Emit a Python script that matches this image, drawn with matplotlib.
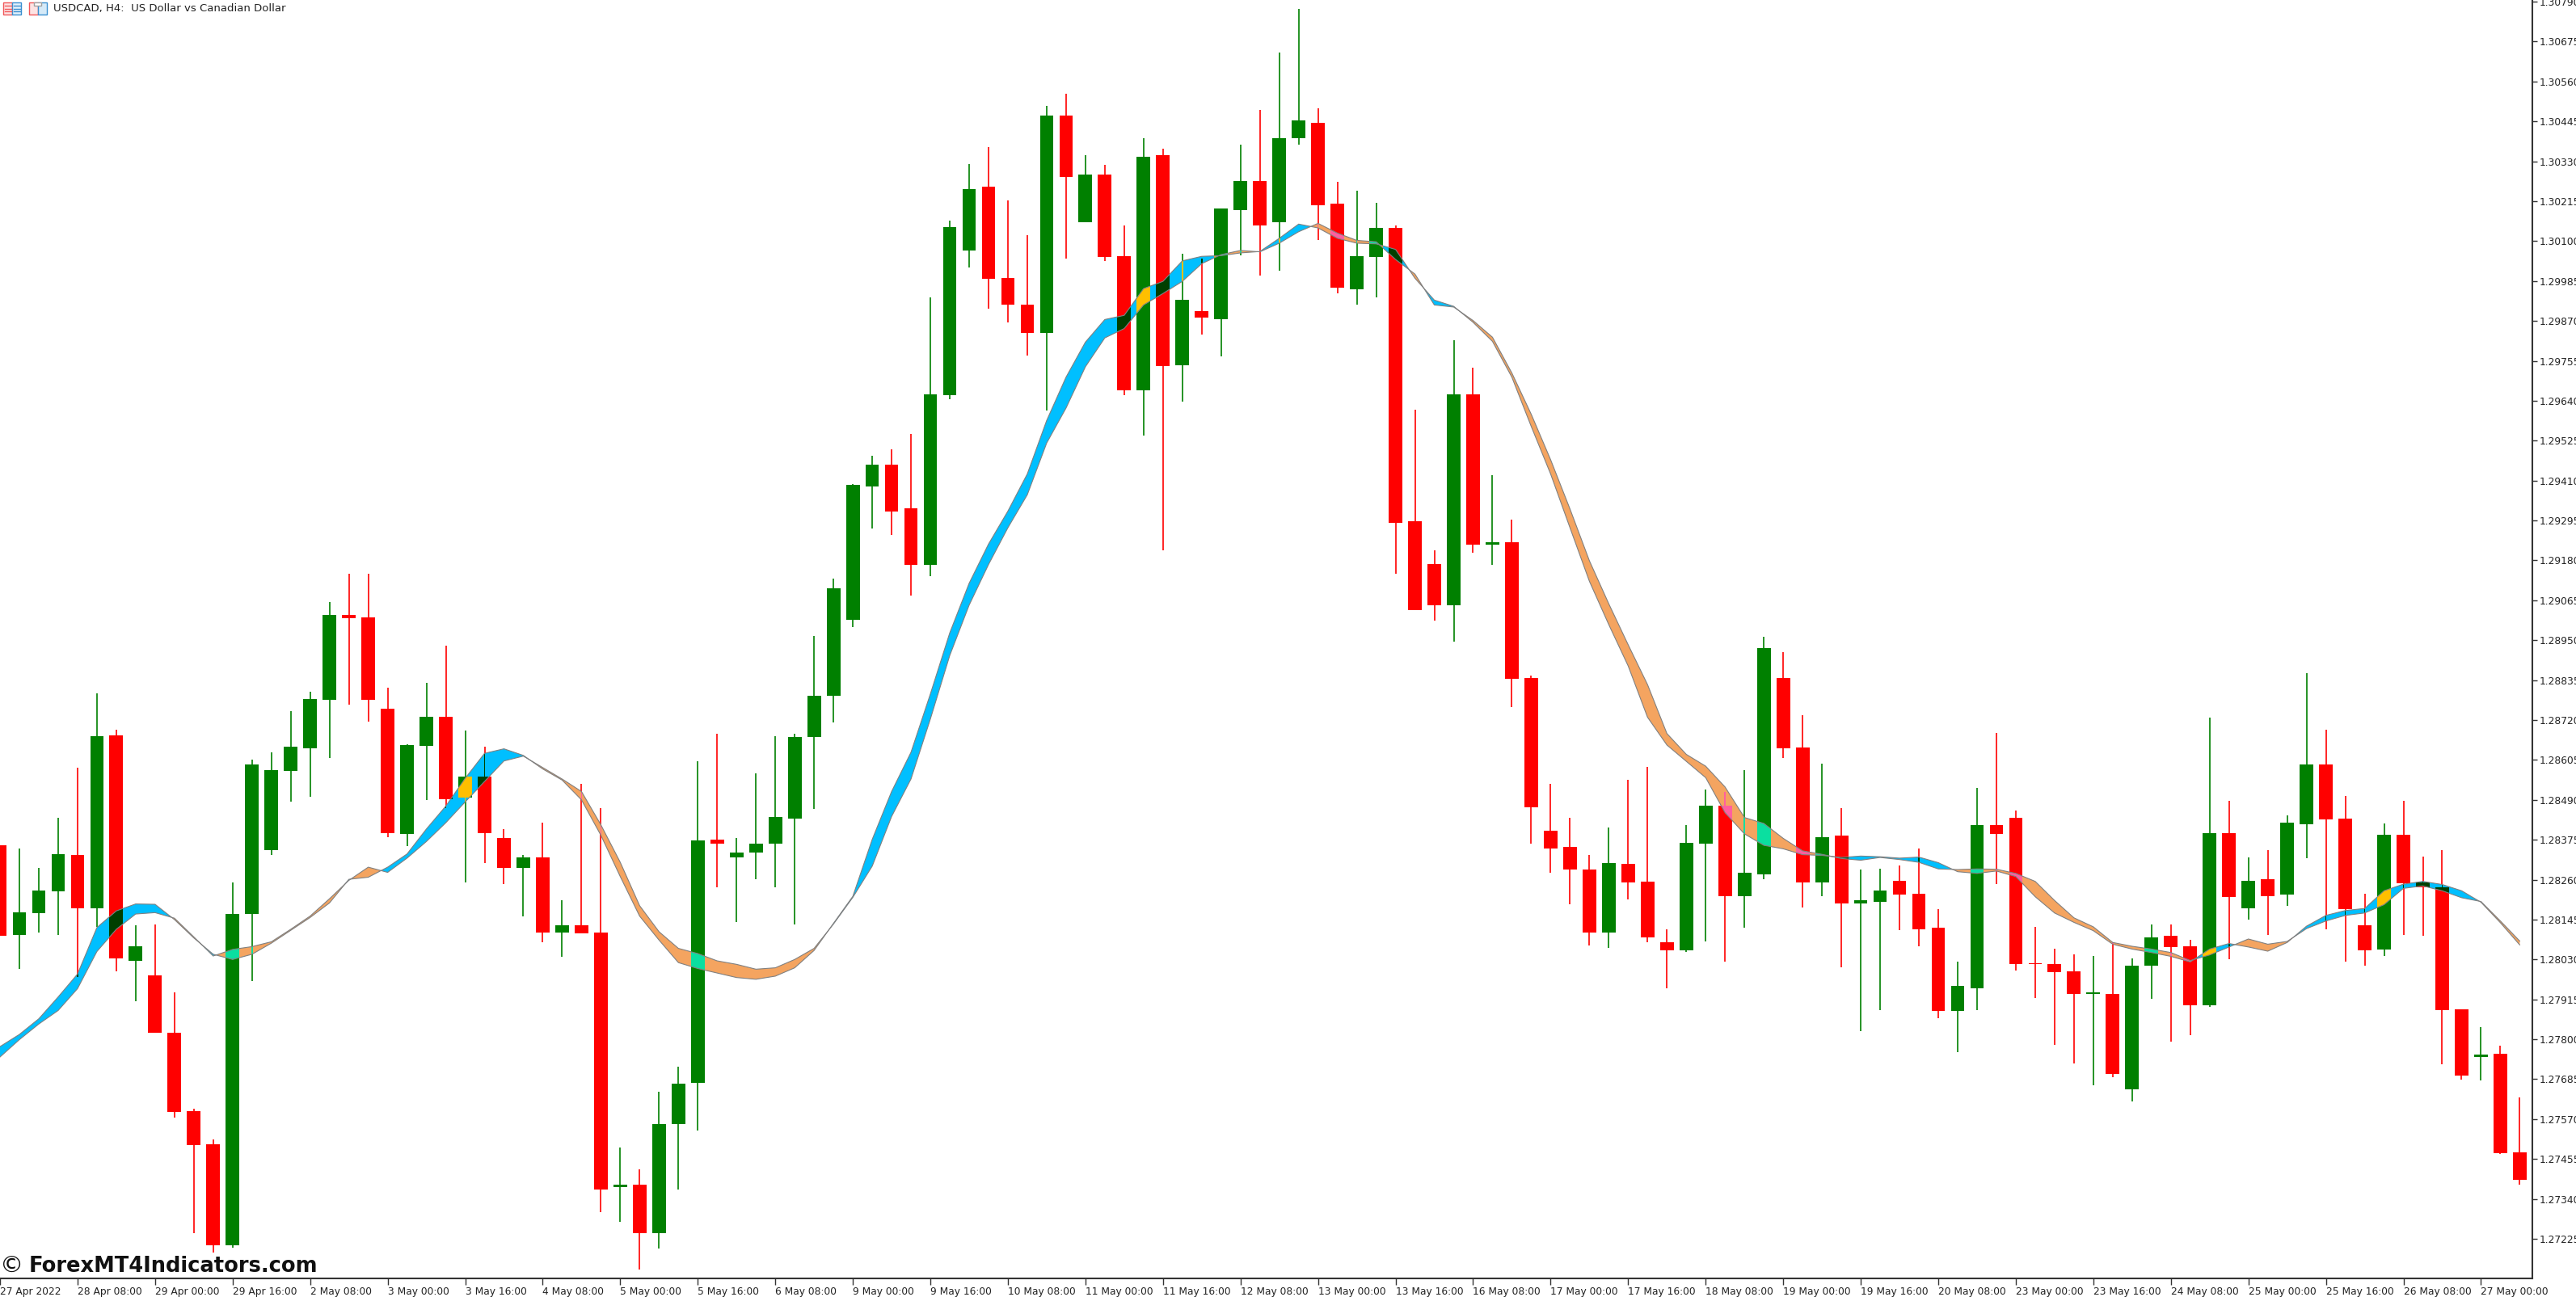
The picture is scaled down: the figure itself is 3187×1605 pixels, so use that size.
import numpy as np
import matplotlib
matplotlib.use("Agg")
import matplotlib.pyplot as plt
from matplotlib.patches import Rectangle

# USDCAD H4 candles
open_ = [1.28358,1.28101,1.28163,1.28227,1.28330,1.28178,1.28676,1.28027,1.27984,1.27819,
         1.27593,1.27498,1.27207,1.28160,1.28345,1.28573,1.28639,1.28778,1.29023,1.29016,
         1.28753,1.28391,1.28645,1.28729,1.28496,1.28557,1.28379,1.28293,1.28324,1.28107,
         1.28128,1.28107,1.27373,1.27381,1.27241,1.27556,1.27675,1.28376,1.28325,1.28338,
         1.28363,1.28436,1.28671,1.28789,1.29009,1.29393,1.29455,1.29330,1.29166,1.29656,
         1.30074,1.30256,1.29994,1.29917,1.29836,1.30462,1.30155,1.30291,1.30057,1.29669,
         1.30347,1.29742,1.29899,1.29876,1.30189,1.30274,1.30155,1.30396,1.30441,1.30207,
         1.29962,1.30054,1.30137,1.29292,1.29169,1.29051,1.29658,1.29226,1.29232,1.28841,
         1.28400,1.28355,1.28289,1.28107,1.28306,1.28254,1.28079,1.28056,1.28363,1.28473,
         1.28212,1.28275,1.28840,1.28641,1.28251,1.28386,1.28192,1.28196,1.28257,1.28219,
         1.28121,1.27882,1.27947,1.28418,1.28438,1.28020,1.28016,1.27995,1.27931,1.27931,
         1.27657,1.28011,1.28099,1.28068,1.27898,1.28394,1.28177,1.28261,1.28216,1.28419,
         1.28593,1.28435,1.28128,1.28059,1.28389,1.28251,1.28238,1.27887,1.27749,1.27758,
         1.27474]
high = [1.28358,1.28349,1.28295,1.28438,1.28582,1.28798,1.28693,1.28128,1.28131,1.27935,
        1.27599,1.27512,1.28253,1.28606,1.28627,1.28746,1.28802,1.29060,1.29141,1.29141,
        1.28812,1.28651,1.28826,1.28935,1.28689,1.28642,1.28405,1.28330,1.28424,1.28200,
        1.28536,1.28466,1.27488,1.27426,1.27649,1.27722,1.28602,1.28680,1.28379,1.28567,
        1.28673,1.28680,1.28962,1.29127,1.29399,1.29481,1.29501,1.29544,1.29938,1.30158,
        1.30322,1.30371,1.30218,1.30117,1.30490,1.30525,1.30347,1.30319,1.30144,1.30396,
        1.30366,1.30064,1.30049,1.30195,1.30378,1.30479,1.30644,1.30769,1.30483,1.30270,
        1.30245,1.30211,1.30144,1.29613,1.29208,1.29815,1.29735,1.29425,1.29298,1.28847,
        1.28537,1.28438,1.28330,1.28411,1.28547,1.28586,1.28117,1.28418,1.28519,1.28512,
        1.28575,1.28959,1.28916,1.28735,1.28595,1.28466,1.28289,1.28291,1.28302,1.28349,
        1.28176,1.28023,1.28525,1.28683,1.28459,1.28125,1.28062,1.28044,1.28040,1.28079,
        1.28033,1.28132,1.28132,1.28086,1.28728,1.28488,1.28324,1.28344,1.28446,1.28855,
        1.28691,1.28501,1.28220,1.28422,1.28488,1.28326,1.28344,1.27887,1.27835,1.27782,
        1.27632]
low = [1.28098,1.28003,1.28107,1.28101,1.27979,1.28123,1.27996,1.27909,1.27818,1.27575,
       1.27242,1.27186,1.27200,1.27969,1.28331,1.28485,1.28499,1.28610,1.28765,1.28716,
       1.28382,1.28356,1.28489,1.28466,1.28251,1.28307,1.28247,1.28155,1.28080,1.28038,
       1.28105,1.27302,1.27273,1.27137,1.27196,1.27367,1.27538,1.28238,1.28139,1.28261,
       1.28238,1.28132,1.28463,1.28712,1.28988,1.29271,1.29253,1.29078,1.29135,1.29645,
       1.30025,1.29906,1.29865,1.29771,1.29612,1.30049,1.30155,1.30042,1.29655,1.29540,
       1.29208,1.29637,1.29830,1.29767,1.30058,1.30001,1.30015,1.30378,1.30102,1.29949,
       1.29917,1.29938,1.29141,1.29037,1.29006,1.28947,1.29201,1.29167,1.28758,1.28363,
       1.28279,1.28188,1.28070,1.28064,1.28204,1.28080,1.27946,1.28051,1.28083,1.28023,
       1.28122,1.28262,1.28611,1.28180,1.28212,1.28007,1.27824,1.27884,1.28114,1.28068,
       1.27860,1.27762,1.27884,1.28247,1.27999,1.27919,1.27783,1.27731,1.27668,1.27691,
       1.27622,1.27917,1.27794,1.27813,1.27894,1.28031,1.28146,1.28101,1.28185,1.28321,
       1.28118,1.28023,1.28013,1.28039,1.28101,1.28098,1.27727,1.27683,1.27681,1.27469,
       1.27382]
close = [1.28098,1.28166,1.28229,1.28333,1.28178,1.28673,1.28034,1.28068,1.27818,1.27591,
         1.27496,1.27207,1.28162,1.28593,1.28575,1.28642,1.28780,1.29023,1.29013,1.28778,
         1.28394,1.28648,1.28729,1.28492,1.28557,1.28394,1.28293,1.28324,1.28107,1.28128,
         1.28105,1.27367,1.27381,1.27242,1.27555,1.27673,1.28373,1.28363,1.28337,1.28363,
         1.28440,1.28670,1.28791,1.29099,1.29397,1.29455,1.29320,1.29166,1.29658,1.30140,
         1.30249,1.29991,1.29917,1.29836,1.30462,1.30284,1.30291,1.30054,1.29669,1.30344,
         1.29740,1.29931,1.29879,1.30193,1.30274,1.30144,1.30396,1.30448,1.30203,1.29966,
         1.30057,1.30137,1.29289,1.29037,1.29051,1.29658,1.29226,1.29232,1.28838,1.28468,
         1.28349,1.28290,1.28107,1.28309,1.28251,1.28094,1.28056,1.28365,1.28473,1.28212,
         1.28281,1.28927,1.28638,1.28251,1.28383,1.28192,1.28201,1.28228,1.28216,1.28118,
         1.27882,1.27953,1.28418,1.28391,1.28017,1.28016,1.27993,1.27930,1.27935,1.27699,
         1.28012,1.28093,1.28066,1.27898,1.28394,1.28210,1.28257,1.28212,1.28425,1.28593,
         1.28433,1.28175,1.28056,1.28389,1.28250,1.28238,1.27884,1.27696,1.27757,1.27472,
         1.27395]

# the two averages that make the ribbon, blue where fast is over slow
ma_fast = [1.27779,1.27814,1.27859,1.27922,1.27988,1.28122,1.28170,1.28190,1.28189,1.28145,
           1.28092,1.28045,1.28030,1.28045,1.28077,1.28114,1.28151,1.28193,1.28261,1.28267,
           1.28296,1.28334,1.28406,1.28472,1.28552,1.28624,1.28637,1.28618,1.28579,1.28547,
           1.28490,1.28388,1.28269,1.28155,1.28086,1.28021,1.28004,1.27991,1.27978,1.27973,
           1.27982,1.28006,1.28056,1.28134,1.28212,1.28376,1.28514,1.28627,1.28795,1.28971,
           1.29114,1.29227,1.29322,1.29429,1.29583,1.29708,1.29809,1.29874,1.29886,1.29963,
           1.29984,1.30043,1.30056,1.30058,1.30066,1.30070,1.30108,1.30149,1.30138,1.30108,
           1.30094,1.30092,1.30076,1.29993,1.29930,1.29912,1.29866,1.29811,1.29708,1.29566,
           1.29429,1.29274,1.29120,1.28995,1.28876,1.28728,1.28648,1.28601,1.28554,1.28453,
           1.28392,1.28359,1.28349,1.28332,1.28330,1.28324,1.28328,1.28326,1.28322,1.28325,
           1.28309,1.28283,1.28278,1.28285,1.28269,1.28211,1.28164,1.28137,1.28113,1.28074,
           1.28060,1.28050,1.28039,1.28023,1.28060,1.28076,1.28066,1.28054,1.28079,1.28126,
           1.28157,1.28171,1.28177,1.28228,1.28247,1.28255,1.28246,1.28228,1.28195,1.28136,
           1.28072]
ma_slow = [1.27749,1.27799,1.27844,1.27883,1.27946,1.28053,1.28117,1.28161,1.28165,1.28149,
           1.28095,1.28040,1.28059,1.28067,1.28081,1.28117,1.28155,1.28205,1.28258,1.28296,
           1.28281,1.28322,1.28370,1.28424,1.28484,1.28543,1.28602,1.28616,1.28583,1.28550,
           1.28514,1.28418,1.28310,1.28185,1.28110,1.28062,1.28047,1.28026,1.28016,1.28002,
           1.28006,1.28030,1.28062,1.28132,1.28209,1.28299,1.28442,1.28550,1.28723,1.28906,
           1.29051,1.29168,1.29274,1.29369,1.29518,1.29619,1.29738,1.29821,1.29848,1.29916,
           1.29949,1.29984,1.30035,1.30061,1.30073,1.30069,1.30094,1.30127,1.30151,1.30123,
           1.30102,1.30098,1.30047,1.30005,1.29916,1.29910,1.29871,1.29823,1.29720,1.29601,
           1.29470,1.29328,1.29179,1.29055,1.28937,1.28822,1.28681,1.28621,1.28587,1.28527,
           1.28439,1.28422,1.28379,1.28343,1.28333,1.28321,1.28316,1.28324,1.28318,1.28310,
           1.28291,1.28289,1.28291,1.28290,1.28278,1.28255,1.28200,1.28150,1.28124,1.28079,
           1.28068,1.28060,1.28050,1.28027,1.28043,1.28066,1.28089,1.28074,1.28082,1.28119,
           1.28141,1.28157,1.28164,1.28188,1.28235,1.28242,1.28228,1.28208,1.28197,1.28141,
           1.28083]

y_ticks = [1.27225,1.27340,1.27455,1.27570,1.27685,1.27800,1.27915,1.28030,1.28145,1.28260,
           1.28375,1.28490,1.28605,1.28720,1.28835,1.28950,1.29065,1.29180,1.29295,1.29410,
           1.29525,1.29640,1.29755,1.29870,1.29985,1.30100,1.30215,1.30330,1.30445,1.30560,
           1.30675,1.30790]
x_labels = ["27 Apr 2022","28 Apr 08:00","29 Apr 00:00","29 Apr 16:00","2 May 08:00","3 May 00:00",
            "3 May 16:00","4 May 08:00","5 May 00:00","5 May 16:00","6 May 08:00","9 May 00:00",
            "9 May 16:00","10 May 08:00","11 May 00:00","11 May 16:00","12 May 08:00","13 May 00:00",
            "13 May 16:00","16 May 08:00","17 May 00:00","17 May 16:00","18 May 08:00","19 May 00:00",
            "19 May 16:00","20 May 08:00","23 May 00:00","23 May 16:00","24 May 08:00","25 May 00:00",
            "25 May 16:00","26 May 08:00","27 May 00:00"]

GREEN = "#008000"
RED = "#FF0000"
BLUE = "#00BFFF"
ORANGE = "#F4A460"
# ribbon colours where it crosses a candle (the terminal inverts them)
OVER = {(True, BLUE): "#FFBF00", (True, ORANGE): "#0BDFA0",
        (False, BLUE): "#003F00", (False, ORANGE): "#FF5F9F"}

W, H = 3187, 1605
AXIS_X, AXIS_Y = 3133, 1582
TICK_FONT = 8.8

open_ = np.array(open_)
high = np.array(high)
low = np.array(low)
close = np.array(close)
ma_fast = np.array(ma_fast)
ma_slow = np.array(ma_slow)
idx = np.arange(len(open_))
up = close >= open_
body_lo = np.minimum(open_, close)
body_hi = np.maximum(open_, close)

plt.rcParams["font.family"] = "DejaVu Sans"
fig = plt.figure(figsize=(W / 100, H / 100), dpi=100)
ax = fig.add_axes([0, (H - AXIS_Y) / H, AXIS_X / W, AXIS_Y / H])
ax.set_xlim(0.125, 130.65)
ax.set_ylim(1.27111, 1.307947)

colors = [GREEN if u else RED for u in up]
ax.vlines(idx, low, high, colors=colors, linewidth=1.2, zorder=2)
ax.bar(idx, body_hi - body_lo, bottom=body_lo, width=0.7, color=colors, linewidth=0, zorder=2)

# ribbon
ax.fill_between(idx, ma_fast, ma_slow, where=ma_fast >= ma_slow, interpolate=True,
                color=BLUE, linewidth=0, zorder=3)
ax.fill_between(idx, ma_fast, ma_slow, where=ma_fast <= ma_slow, interpolate=True,
                color=ORANGE, linewidth=0, zorder=3)


def overlay(x0, x1, y0, y1, is_up):
    rect = Rectangle((x0, y0), x1 - x0, y1 - y0, transform=ax.transData)
    for colour, mask in ((BLUE, ma_fast >= ma_slow), (ORANGE, ma_fast <= ma_slow)):
        poly = ax.fill_between(idx, ma_fast, ma_slow, where=mask, interpolate=True,
                               color=OVER[(is_up, colour)], linewidth=0, zorder=4)
        poly.set_clip_path(rect)


band_lo = np.minimum(ma_fast, ma_slow)
band_hi = np.maximum(ma_fast, ma_slow)
for i in idx:
    near_lo = band_lo[max(i - 1, 0):i + 2].min()
    near_hi = band_hi[max(i - 1, 0):i + 2].max()
    if high[i] < near_lo or low[i] > near_hi:
        continue
    if body_hi[i] >= near_lo and body_lo[i] <= near_hi:
        overlay(i - 0.35, i + 0.35, body_lo[i], body_hi[i], bool(up[i]))
    overlay(i - 0.035, i + 0.035, low[i], high[i], bool(up[i]))

ax.plot(idx, ma_fast, color="#808080", linewidth=0.8, zorder=5)
ax.plot(idx, ma_slow, color="#808080", linewidth=0.8, zorder=5)

# axes
for side in ("top", "left"):
    ax.spines[side].set_visible(False)
for side in ("right", "bottom"):
    ax.spines[side].set_color("#333333")
    ax.spines[side].set_linewidth(1.5)

ax.yaxis.tick_right()
ax.set_yticks(y_ticks)
ax.set_yticklabels(["%.5f" % v for v in y_ticks])
ax.tick_params(axis="y", length=4.2, width=1.0, pad=2, labelsize=TICK_FONT, color="#333333", labelcolor="#222222")
ax.set_xticks(idx[::4][:len(x_labels)])
ax.set_xticklabels(x_labels, ha="left")
ax.tick_params(axis="x", length=5.5, width=1.0, pad=1.5, labelsize=TICK_FONT, color="#333333", labelcolor="#222222")

# overlay in pixel coordinates for header icons and the watermark
top = fig.add_axes([0, 0, 1, 1], facecolor="none")
top.set_xlim(0, W)
top.set_ylim(H, 0)
top.axis("off")

top.add_patch(Rectangle((4.5, 3), 11, 15, fc="#FDE3E3", ec="#F0585A", lw=1))
top.add_patch(Rectangle((15.5, 3), 11, 15, fc="#E2F0FA", ec="#3A8FD0", lw=1))
for yy in (7, 10.5, 14):
    top.plot([6, 14], [yy, yy], color="#F0585A", lw=1)
    top.plot([17, 25], [yy, yy], color="#3A8FD0", lw=1)
top.add_patch(Rectangle((36.5, 3), 10.5, 15, fc="#FDE3E3", ec="#F0585A", lw=1))
top.add_patch(Rectangle((47, 3), 11, 15, fc="#D5EAF8", ec="#3A8FD0", lw=1))
top.add_patch(Rectangle((42, 2.5), 9, 4, fc="white", ec="#A0A0A0", lw=1))

top.text(66, 10.5, "USDCAD, H4:  US Dollar vs Canadian Dollar", fontsize=9.5,
         color="#222222", va="center", ha="left")
top.text(0, 1567, "©", fontsize=21, color="#111111", va="center", ha="left")
top.text(36, 1567, "ForexMT4Indicators.com", fontsize=18.5, fontweight="bold",
         color="#111111", va="center", ha="left")

fig.savefig("out.png", dpi=100)
